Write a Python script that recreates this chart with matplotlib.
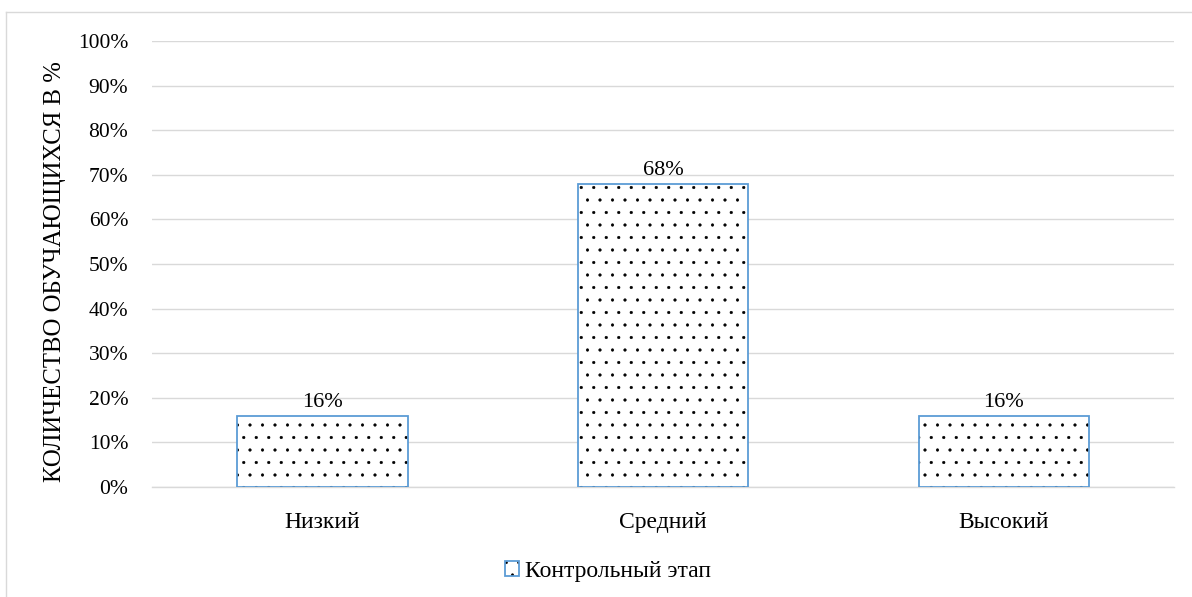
import numpy as np
import matplotlib.pyplot as plt
from matplotlib.lines import Line2D
from matplotlib.legend_handler import HandlerTuple

# data
categories = ['Низкий', 'Средний', 'Высокий']
values = [16, 68, 16]
series_name = 'Контрольный этап'
yticks = [0, 10, 20, 30, 40, 50, 60, 70, 80, 90, 100]

# render at 150 dpi so the dot hatch is about as sparse as the original;
# sizes below are given as if at 100 dpi and converted
DPI = 150
S = 100 / DPI


def lw(px):
    return px * 72 / DPI


plt.rcParams['font.family'] = ['Liberation Serif', 'DejaVu Serif']
plt.rcParams['hatch.linewidth'] = lw(0.6)

fig = plt.figure(figsize=(1192 / DPI, 597 / DPI), dpi=DPI)
ax = fig.add_axes([0.1275, 0.1843, 0.8575, 0.747])

x = np.arange(len(categories))
dots = ax.bar(x, values, width=0.5, color='white', edgecolor='black',
              linewidth=0, hatch='..', zorder=3)
frames = ax.bar(x, values, width=0.5, fill=False, edgecolor='#5B9BD5',
                linewidth=lw(1.8), zorder=4)

for b, v in zip(frames, values):
    ax.text(b.get_x() + b.get_width() / 2, v + 0.8, f'{v}%', ha='center',
            va='bottom', fontsize=16 * S)

ax.set_xlim(-0.5, len(categories) - 0.5)
ax.set_ylim(0, 100)
ax.set_yticks(yticks)
ax.set_yticklabels([f'{t}%' for t in yticks], fontsize=15.5 * S)
ax.set_xticks(x)
ax.set_xticklabels(categories, fontsize=17 * S)
ax.tick_params(axis='y', length=0, pad=17 * S)
ax.tick_params(axis='x', length=0, pad=18 * S)
ax.grid(axis='y', color='#D9D9D9', linewidth=lw(1.4), zorder=0)
for s in ['top', 'right', 'left']:
    ax.spines[s].set_visible(False)
ax.spines['bottom'].set_color('#D9D9D9')
ax.spines['bottom'].set_linewidth(lw(1.4))

ax.set_ylabel('КОЛИЧЕСТВО ОБУЧАЮЩИХСЯ В %', fontsize=17.8 * S)
ax.yaxis.set_label_coords(-0.084, 0.484)

fig.legend(handles=[(dots, frames)], labels=[series_name], loc='center',
           bbox_to_anchor=(0.51, 0.043), frameon=False, fontsize=17 * S,
           handlelength=0.6, handleheight=0.6, handletextpad=0.25,
           handler_map={tuple: HandlerTuple(ndivide=1)})

# outer chart border (only top and left are inside the picture)
fig.add_artist(Line2D([0.005, 1.0], [0.98, 0.98], transform=fig.transFigure,
                      color='#D9D9D9', linewidth=lw(1.4)))
fig.add_artist(Line2D([0.005, 0.005], [0.0, 0.98], transform=fig.transFigure,
                      color='#D9D9D9', linewidth=lw(1.4)))

fig.savefig('out.png', dpi=DPI)
